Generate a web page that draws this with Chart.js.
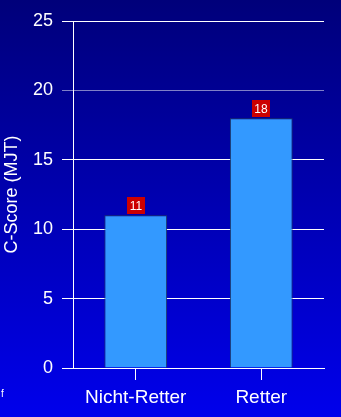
<!DOCTYPE html>
<html>
<head>
<meta charset="utf-8">
<script src="https://cdn.jsdelivr.net/npm/chart.js@4"></script>
<style>
  html, body { margin: 0; padding: 0; background: #000080; }
  canvas { display: block; }
</style>
</head>
<body>
<canvas id="chartScore" width="341" height="417"></canvas>
<script>
// datos del grafico
const categorias = ['Nicht-Retter', 'Retter'];
const valores = [11, 18];
const ejeTitulo = 'C-Score (MJT)';
const ejeMax = 25;
const ejePaso = 5;

const fuente = "'Liberation Sans', Arial, sans-serif";

// fondo degradado y la pequeña "f"
const fondoPlugin = {
    id: 'fondo',
    beforeDraw(chart) {
        const ctx = chart.ctx;
        const g = ctx.createLinearGradient(0, 0, 0, chart.height);
        g.addColorStop(0, '#00007a');
        g.addColorStop(1, '#0000ec');
        ctx.save();
        ctx.fillStyle = g;
        ctx.fillRect(0, 0, chart.width, chart.height);
        ctx.restore();
    },
    afterDraw(chart) {
        const ctx = chart.ctx;
        ctx.save();
        ctx.fillStyle = '#ffffff';
        ctx.font = '10px ' + fuente;
        ctx.textBaseline = 'alphabetic';
        ctx.fillText('f', 1, 397);
        ctx.restore();
    }
};

// etiquetas rojas encima de cada barra
const etiquetasPlugin = {
    id: 'etiquetas',
    afterDatasetsDraw(chart) {
        const ctx = chart.ctx;
        const meta = chart.getDatasetMeta(0);
        ctx.save();
        ctx.font = '12px ' + fuente;
        ctx.textAlign = 'center';
        ctx.textBaseline = 'middle';
        meta.data.forEach(function (bar, i) {
            const w = 18, h = 17;
            const x = Math.round(bar.x - w / 2);
            const y = Math.round(bar.y) - 1 - h;
            ctx.fillStyle = '#cc0000';
            ctx.fillRect(x, y, w, h);
            ctx.fillStyle = '#ffffff';
            ctx.fillText(String(valores[i]), x + w / 2, y + h / 2 + 1);
        });
        ctx.restore();
    }
};

new Chart(document.getElementById('chartScore'), {
    type: 'bar',
    data: {
        labels: categorias,
        datasets: [{
            data: valores,
            backgroundColor: '#3399ff',
            borderColor: '#1e3c64',
            borderWidth: 1,
            barPercentage: 0.5,
            categoryPercentage: 1
        }]
    },
    plugins: [fondoPlugin, etiquetasPlugin],
    options: {
        responsive: false,
        animation: false,
        layout: { padding: { top: 21, right: 17, left: 0, bottom: 0 } },
        plugins: {
            legend: { display: false },
            tooltip: { enabled: false }
        },
        scales: {
            x: {
                afterFit(scale) { scale.height = 49; },
                grid: {
                    offset: false,
                    drawOnChartArea: false,
                    drawTicks: true,
                    tickLength: 12,
                    color: '#ffffff'
                },
                border: { color: '#ffffff', width: 1 },
                ticks: {
                    color: '#ffffff',
                    font: { family: fuente, size: 19 },
                    padding: 6,
                    maxRotation: 0
                }
            },
            y: {
                min: 0,
                max: ejeMax,
                afterFit(scale) { scale.width = 73; },
                grid: {
                    color: function (c) {
                        return c.tick && c.tick.value === 20 ? '#8080c8' : '#ffffff';
                    },
                    drawTicks: true,
                    tickLength: 11
                },
                border: { color: '#ffffff', width: 1 },
                ticks: {
                    stepSize: ejePaso,
                    color: '#ffffff',
                    font: { family: fuente, size: 18 },
                    padding: 9
                },
                title: {
                    display: true,
                    text: ejeTitulo,
                    color: '#ffffff',
                    font: { family: fuente, size: 18 },
                    padding: { top: 1, bottom: 0 }
                }
            }
        }
    }
});
</script>
</body>
</html>
